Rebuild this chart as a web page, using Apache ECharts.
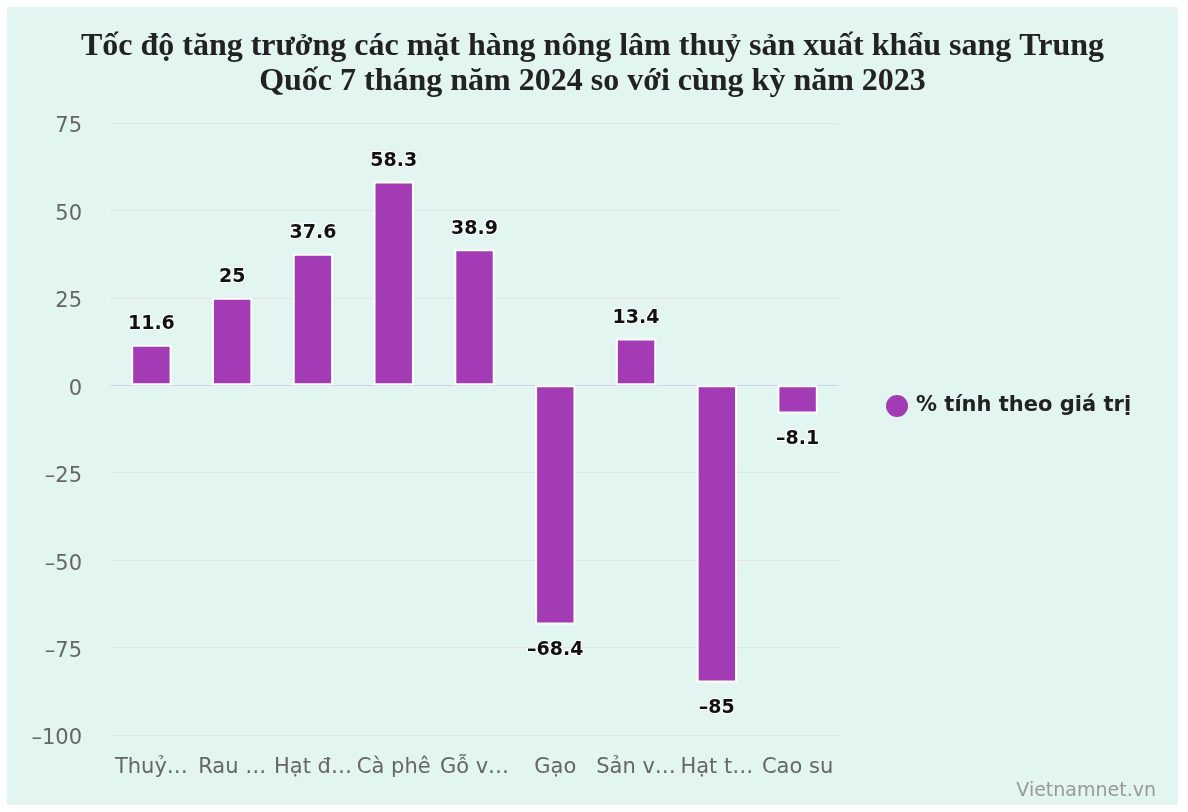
<!DOCTYPE html>
<html>
<head>
<meta charset="utf-8">
<script src="https://cdn.jsdelivr.net/npm/echarts@6/dist/echarts.min.js"></script>
<style>
  html, body { margin: 0; padding: 0; background: #fff; }
  #chart {
    position: absolute;
    left: 7px; top: 7px;
    width: 1171px; height: 798px;
    background: #e2f5f1;
  }
</style>
</head>
<body>
<div id="chart"></div>
<script>
  // dữ liệu
  var categories = ['Thuỷ…', 'Rau …', 'Hạt đ…', 'Cà phê', 'Gỗ v…', 'Gạo', 'Sản v…', 'Hạt t…', 'Cao su']
  var values = [11.6, 25, 37.6, 58.3, 38.9, -68.4, 13.4, -85, -8.1]
  var seriesName = '% tính theo giá trị'
  var yTicks = { min: -100, max: 75, interval: 25 }

  var font = '"DejaVu Sans", sans-serif'

  function minus(v) {
    return String(v).replace('-', '\u2013')
  }

  // nhãn âm nằm xa cột hơn một chút
  var barData = values.map(function (v) {
    return { value: v, label: { distance: v < 0 ? 16 : 11 } }
  })

  var chart = echarts.init(document.getElementById('chart'))
  chart.setOption({
    backgroundColor: 'transparent',
    title: {
      text: 'Tốc độ tăng trưởng các mặt hàng nông lâm thuỷ sản xuất khẩu sang Trung\nQuốc 7 tháng năm 2024 so với cùng kỳ năm 2023',
      left: 'center',
      top: 17,
      textStyle: {
        fontFamily: '"Liberation Serif", serif',
        fontWeight: 'bold',
        fontSize: 32,
        lineHeight: 35,
        color: '#222'
      }
    },
    legend: {
      orient: 'vertical',
      left: 874,
      top: 383,
      icon: 'circle',
      itemWidth: 28,
      itemHeight: 22,
      itemStyle: { borderWidth: 0 },
      textStyle: {
        fontFamily: font,
        fontWeight: 'bold',
        fontSize: 21,
        color: '#222'
      },
      data: [seriesName]
    },
    graphic: [{
      type: 'text',
      right: 22,
      top: 775,
      style: {
        text: 'Vietnamnet.vn',
        fill: '#999',
        font: '19px "DejaVu Sans", sans-serif'
      }
    }],
    grid: {
      left: 104,
      top: 116,
      width: 727,
      height: 612,
      containLabel: false
    },
    xAxis: {
      type: 'category',
      data: categories,
      axisLine: { lineStyle: { color: '#ccd6eb', width: 1 } },
      axisTick: { show: false },
      axisLabel: {
        color: '#666',
        fontSize: 21,
        fontFamily: font,
        margin: 22,
        interval: 0
      }
    },
    yAxis: {
      type: 'value',
      min: yTicks.min,
      max: yTicks.max,
      interval: yTicks.interval,
      axisLine: { show: false },
      axisTick: { show: false },
      splitLine: { lineStyle: { color: '#e3e3e3', width: 1 } },
      axisLabel: {
        color: '#666',
        fontSize: 21,
        fontFamily: font,
        margin: 29,
        formatter: function (v) { return '{v|' + minus(v) + '}' },
        rich: {
          v: {
            color: '#666',
            fontSize: 21,
            fontFamily: font,
            padding: [8, 0, 0, 0]
          }
        }
      }
    },
    series: [{
      name: seriesName,
      type: 'bar',
      data: barData,
      barWidth: '50%',
      itemStyle: {
        color: '#a33bb5',
        borderColor: '#fff',
        borderWidth: 2
      },
      label: {
        show: true,
        position: 'outside',
        color: '#111',
        fontSize: 19,
        fontWeight: 'bold',
        fontFamily: font,
        textBorderColor: '#fff',
        textBorderWidth: 2,
        formatter: function (p) { return minus(p.value) }
      }
    }]
  })
</script>
</body>
</html>
